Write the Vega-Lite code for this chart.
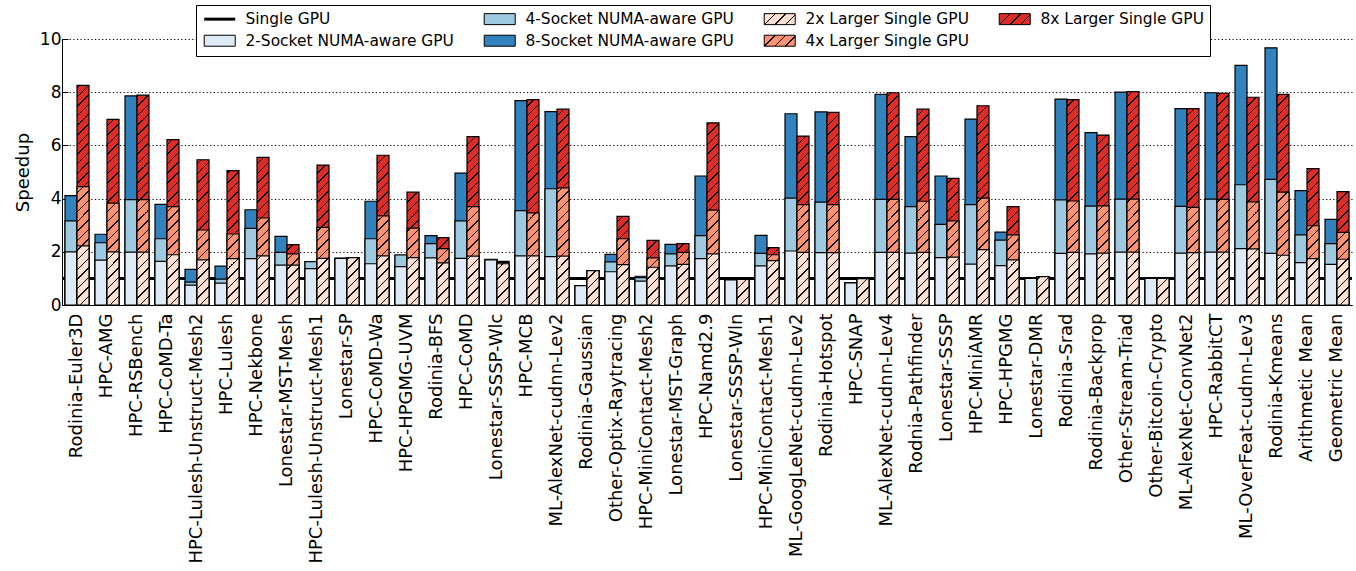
{
  "$schema": "https://vega.github.io/schema/vega-lite/v6.json",
  "width": 1290,
  "height": 266,
  "autosize": {"type": "none"},
  "padding": {"left": 62, "top": 39, "right": 4, "bottom": 266},
  "config": {"view": {"stroke": null}, "font": "DejaVu Sans"},
  "params": [
    {"name": "hatch", "value": [
      {"offset":0,"color":"transparent"},{"offset":0.034,"color":"transparent"},{"offset":0.034,"color":"#000"},{"offset":0.04,"color":"#000"},
      {"offset":0.04,"color":"transparent"},{"offset":0.074,"color":"transparent"},{"offset":0.074,"color":"#000"},{"offset":0.08,"color":"#000"},
      {"offset":0.08,"color":"transparent"},{"offset":0.114,"color":"transparent"},{"offset":0.114,"color":"#000"},{"offset":0.12,"color":"#000"},
      {"offset":0.12,"color":"transparent"},{"offset":0.154,"color":"transparent"},{"offset":0.154,"color":"#000"},{"offset":0.16,"color":"#000"},
      {"offset":0.16,"color":"transparent"},{"offset":0.194,"color":"transparent"},{"offset":0.194,"color":"#000"},{"offset":0.2,"color":"#000"},
      {"offset":0.2,"color":"transparent"},{"offset":0.234,"color":"transparent"},{"offset":0.234,"color":"#000"},{"offset":0.24,"color":"#000"},
      {"offset":0.24,"color":"transparent"},{"offset":0.274,"color":"transparent"},{"offset":0.274,"color":"#000"},{"offset":0.28,"color":"#000"},
      {"offset":0.28,"color":"transparent"},{"offset":0.314,"color":"transparent"},{"offset":0.314,"color":"#000"},{"offset":0.32,"color":"#000"},
      {"offset":0.32,"color":"transparent"},{"offset":0.354,"color":"transparent"},{"offset":0.354,"color":"#000"},{"offset":0.36,"color":"#000"},
      {"offset":0.36,"color":"transparent"},{"offset":0.394,"color":"transparent"},{"offset":0.394,"color":"#000"},{"offset":0.4,"color":"#000"},
      {"offset":0.4,"color":"transparent"},{"offset":0.434,"color":"transparent"},{"offset":0.434,"color":"#000"},{"offset":0.44,"color":"#000"},
      {"offset":0.44,"color":"transparent"},{"offset":0.474,"color":"transparent"},{"offset":0.474,"color":"#000"},{"offset":0.48,"color":"#000"},
      {"offset":0.48,"color":"transparent"},{"offset":0.514,"color":"transparent"},{"offset":0.514,"color":"#000"},{"offset":0.52,"color":"#000"},
      {"offset":0.52,"color":"transparent"},{"offset":0.554,"color":"transparent"},{"offset":0.554,"color":"#000"},{"offset":0.56,"color":"#000"},
      {"offset":0.56,"color":"transparent"},{"offset":0.594,"color":"transparent"},{"offset":0.594,"color":"#000"},{"offset":0.6,"color":"#000"},
      {"offset":0.6,"color":"transparent"},{"offset":0.634,"color":"transparent"},{"offset":0.634,"color":"#000"},{"offset":0.64,"color":"#000"},
      {"offset":0.64,"color":"transparent"},{"offset":0.674,"color":"transparent"},{"offset":0.674,"color":"#000"},{"offset":0.68,"color":"#000"},
      {"offset":0.68,"color":"transparent"},{"offset":0.714,"color":"transparent"},{"offset":0.714,"color":"#000"},{"offset":0.72,"color":"#000"},
      {"offset":0.72,"color":"transparent"},{"offset":0.754,"color":"transparent"},{"offset":0.754,"color":"#000"},{"offset":0.76,"color":"#000"},
      {"offset":0.76,"color":"transparent"},{"offset":0.794,"color":"transparent"},{"offset":0.794,"color":"#000"},{"offset":0.8,"color":"#000"},
      {"offset":0.8,"color":"transparent"},{"offset":0.834,"color":"transparent"},{"offset":0.834,"color":"#000"},{"offset":0.84,"color":"#000"},
      {"offset":0.84,"color":"transparent"},{"offset":0.874,"color":"transparent"},{"offset":0.874,"color":"#000"},{"offset":0.88,"color":"#000"},
      {"offset":0.88,"color":"transparent"},{"offset":0.914,"color":"transparent"},{"offset":0.914,"color":"#000"},{"offset":0.92,"color":"#000"},
      {"offset":0.92,"color":"transparent"},{"offset":0.954,"color":"transparent"},{"offset":0.954,"color":"#000"},{"offset":0.96,"color":"#000"},
      {"offset":0.96,"color":"transparent"},{"offset":0.994,"color":"transparent"},{"offset":0.994,"color":"#000"},{"offset":1,"color":"#000"}
    ]},
    {"name": "lg2", "value": [
      {"offset":0,"color":"#fee0d2"},{"offset":0.215,"color":"#fee0d2"},{"offset":0.215,"color":"#000"},{"offset":0.25,"color":"#000"},
      {"offset":0.25,"color":"#fee0d2"},{"offset":0.465,"color":"#fee0d2"},{"offset":0.465,"color":"#000"},{"offset":0.5,"color":"#000"},
      {"offset":0.5,"color":"#fee0d2"},{"offset":0.715,"color":"#fee0d2"},{"offset":0.715,"color":"#000"},{"offset":0.75,"color":"#000"},
      {"offset":0.75,"color":"#fee0d2"},{"offset":0.965,"color":"#fee0d2"},{"offset":0.965,"color":"#000"},{"offset":1,"color":"#000"}
    ]},
    {"name": "lg4", "value": [
      {"offset":0,"color":"#fc9272"},{"offset":0.215,"color":"#fc9272"},{"offset":0.215,"color":"#000"},{"offset":0.25,"color":"#000"},
      {"offset":0.25,"color":"#fc9272"},{"offset":0.465,"color":"#fc9272"},{"offset":0.465,"color":"#000"},{"offset":0.5,"color":"#000"},
      {"offset":0.5,"color":"#fc9272"},{"offset":0.715,"color":"#fc9272"},{"offset":0.715,"color":"#000"},{"offset":0.75,"color":"#000"},
      {"offset":0.75,"color":"#fc9272"},{"offset":0.965,"color":"#fc9272"},{"offset":0.965,"color":"#000"},{"offset":1,"color":"#000"}
    ]},
    {"name": "lg8", "value": [
      {"offset":0,"color":"#de2d26"},{"offset":0.215,"color":"#de2d26"},{"offset":0.215,"color":"#000"},{"offset":0.25,"color":"#000"},
      {"offset":0.25,"color":"#de2d26"},{"offset":0.465,"color":"#de2d26"},{"offset":0.465,"color":"#000"},{"offset":0.5,"color":"#000"},
      {"offset":0.5,"color":"#de2d26"},{"offset":0.715,"color":"#de2d26"},{"offset":0.715,"color":"#000"},{"offset":0.75,"color":"#000"},
      {"offset":0.75,"color":"#de2d26"},{"offset":0.965,"color":"#de2d26"},{"offset":0.965,"color":"#000"},{"offset":1,"color":"#000"}
    ]}
  ],
  "data": {"values": [
    {"bench":"Rodinia-Euler3D","s2":2.0,"s4":3.16,"s8":4.11,"l2":2.22,"l4":4.45,"l8":8.26},
    {"bench":"HPC-AMG","s2":1.69,"s4":2.34,"s8":2.66,"l2":2.0,"l4":3.83,"l8":6.98},
    {"bench":"HPC-RSBench","s2":1.99,"s4":3.96,"s8":7.86,"l2":1.99,"l4":3.96,"l8":7.89},
    {"bench":"HPC-CoMD-Ta","s2":1.64,"s4":2.49,"s8":3.78,"l2":1.89,"l4":3.70,"l8":6.22},
    {"bench":"HPC-Lulesh-Unstruct-Mesh2","s2":0.75,"s4":0.86,"s8":1.34,"l2":1.70,"l4":2.82,"l8":5.46},
    {"bench":"HPC-Lulesh","s2":0.82,"s4":0.97,"s8":1.46,"l2":1.74,"l4":2.67,"l8":5.05},
    {"bench":"HPC-Nekbone","s2":1.74,"s4":2.88,"s8":3.58,"l2":1.85,"l4":3.27,"l8":5.55},
    {"bench":"Lonestar-MST-Mesh","s2":1.50,"s4":1.98,"s8":2.58,"l2":1.50,"l4":1.92,"l8":2.27},
    {"bench":"HPC-Lulesh-Unstruct-Mesh1","s2":1.37,"s4":1.63,"s8":1.63,"l2":1.75,"l4":2.92,"l8":5.26},
    {"bench":"Lonestar-SP","s2":1.75,"s4":1.75,"s8":1.75,"l2":1.78,"l4":1.78,"l8":1.78},
    {"bench":"HPC-CoMD-Wa","s2":1.55,"s4":2.49,"s8":3.90,"l2":1.85,"l4":3.35,"l8":5.63},
    {"bench":"HPC-HPGMG-UVM","s2":1.44,"s4":1.88,"s8":1.88,"l2":1.78,"l4":2.89,"l8":4.24},
    {"bench":"Rodinia-BFS","s2":1.77,"s4":2.31,"s8":2.61,"l2":1.58,"l4":2.12,"l8":2.53},
    {"bench":"HPC-CoMD","s2":1.75,"s4":3.16,"s8":4.96,"l2":1.84,"l4":3.70,"l8":6.33},
    {"bench":"Lonestar-SSSP-Wlc","s2":1.70,"s4":1.71,"s8":1.72,"l2":1.55,"l4":1.60,"l8":1.64},
    {"bench":"HPC-MCB","s2":1.85,"s4":3.55,"s8":7.68,"l2":1.85,"l4":3.46,"l8":7.72},
    {"bench":"ML-AlexNet-cudnn-Lev2","s2":1.82,"s4":4.37,"s8":7.27,"l2":1.84,"l4":4.40,"l8":7.36},
    {"bench":"Rodinia-Gaussian","s2":0.73,"s4":0.73,"s8":0.73,"l2":1.29,"l4":1.29,"l8":1.29},
    {"bench":"Other-Optix-Raytracing","s2":1.25,"s4":1.62,"s8":1.90,"l2":1.52,"l4":2.49,"l8":3.33},
    {"bench":"HPC-MiniContact-Mesh2","s2":0.90,"s4":1.03,"s8":1.08,"l2":1.42,"l4":1.77,"l8":2.43},
    {"bench":"Lonestar-MST-Graph","s2":1.47,"s4":1.92,"s8":2.28,"l2":1.53,"l4":1.98,"l8":2.31},
    {"bench":"HPC-Namd2.9","s2":1.74,"s4":2.61,"s8":4.85,"l2":1.92,"l4":3.57,"l8":6.85},
    {"bench":"Lonestar-SSSP-Wln","s2":0.94,"s4":0.94,"s8":0.94,"l2":0.96,"l4":0.96,"l8":0.96},
    {"bench":"HPC-MiniContact-Mesh1","s2":1.47,"s4":1.94,"s8":2.62,"l2":1.67,"l4":1.89,"l8":2.16},
    {"bench":"ML-GoogLeNet-cudnn-Lev2","s2":2.03,"s4":4.02,"s8":7.19,"l2":1.98,"l4":3.77,"l8":6.35},
    {"bench":"Rodinia-Hotspot","s2":1.97,"s4":3.87,"s8":7.26,"l2":1.97,"l4":3.77,"l8":7.24},
    {"bench":"HPC-SNAP","s2":0.83,"s4":0.83,"s8":0.83,"l2":0.99,"l4":0.99,"l8":0.99},
    {"bench":"ML-AlexNet-cudnn-Lev4","s2":1.98,"s4":3.97,"s8":7.92,"l2":1.98,"l4":3.97,"l8":7.98},
    {"bench":"Rodnia-Pathfinder","s2":1.95,"s4":3.70,"s8":6.33,"l2":1.98,"l4":3.90,"l8":7.36},
    {"bench":"Lonestar-SSSP","s2":1.78,"s4":3.03,"s8":4.85,"l2":1.80,"l4":3.16,"l8":4.76},
    {"bench":"HPC-MiniAMR","s2":1.54,"s4":3.77,"s8":6.99,"l2":2.08,"l4":4.02,"l8":7.49},
    {"bench":"HPC-HPGMG","s2":1.48,"s4":2.44,"s8":2.74,"l2":1.70,"l4":2.64,"l8":3.70},
    {"bench":"Lonestar-DMR","s2":1.00,"s4":1.00,"s8":1.00,"l2":1.07,"l4":1.07,"l8":1.07},
    {"bench":"Rodinia-Srad","s2":1.94,"s4":3.95,"s8":7.74,"l2":1.98,"l4":3.91,"l8":7.72},
    {"bench":"Rodinia-Backprop","s2":1.92,"s4":3.72,"s8":6.48,"l2":1.95,"l4":3.73,"l8":6.39},
    {"bench":"Other-Stream-Triad","s2":1.99,"s4":3.98,"s8":8.00,"l2":1.99,"l4":3.98,"l8":8.02},
    {"bench":"Other-Bitcoin-Crypto","s2":1.00,"s4":1.00,"s8":1.00,"l2":1.00,"l4":1.00,"l8":1.00},
    {"bench":"ML-AlexNet-ConvNet2","s2":1.95,"s4":3.71,"s8":7.38,"l2":1.97,"l4":3.67,"l8":7.38},
    {"bench":"HPC-RabbitCT","s2":1.99,"s4":3.98,"s8":7.98,"l2":1.99,"l4":3.97,"l8":7.96},
    {"bench":"ML-OverFeat-cudnn-Lev3","s2":2.12,"s4":4.52,"s8":9.01,"l2":2.11,"l4":3.88,"l8":7.81},
    {"bench":"Rodinia-Kmeans","s2":1.94,"s4":4.72,"s8":9.67,"l2":1.87,"l4":4.24,"l8":7.92},
    {"bench":"Arithmetic Mean","s2":1.59,"s4":2.64,"s8":4.30,"l2":1.74,"l4":2.98,"l8":5.13},
    {"bench":"Geometric Mean","s2":1.53,"s4":2.31,"s8":3.22,"l2":1.72,"l4":2.73,"l8":4.26}
  ]},
  "layer": [
    {
      "data": {"values": [{}]},
      "mark": {"type": "rule", "strokeWidth": 3, "stroke": "#000"},
      "encoding": {
        "y": {"datum": 1, "type": "quantitative"}
      }
    },
    {
      "transform": [{"fold": ["s8", "s4", "s2"], "as": ["series", "value"]}],
      "mark": {"type": "bar", "stroke": "#000", "strokeWidth": 1.2},
      "encoding": {
        "x": {
          "field": "bench", "type": "nominal", "sort": null,
          "scale": {"paddingInner": 0.2, "paddingOuter": 0.1},
          "axis": {"title": null, "labelAngle": -90, "labelFontSize": 18, "labelColor": "#000", "ticks": false, "labelPadding": 8, "domainColor": "#000", "domainWidth": 1, "labelLimit": 0, "grid": false}
        },
        "xOffset": {"datum": "NUMA", "type": "nominal", "scale": {"domain": ["NUMA", "Larger"], "paddingInner": 0, "paddingOuter": 0}},
        "y": {
          "field": "value", "type": "quantitative", "stack": null,
          "scale": {"domain": [0, 10], "nice": false},
          "axis": {"values": [0, 2, 4, 6, 8, 10], "grid": true, "gridColor": "#000", "gridDash": [1.2, 2.4], "gridWidth": 1, "domainColor": "#000", "domainWidth": 1, "tickColor": "#000", "tickSize": -6, "tickWidth": 1, "labelFontSize": 17, "labelColor": "#000", "labelPadding": 7, "title": "Speedup", "titleFontSize": 18, "titleFontWeight": "normal", "titleColor": "#000", "titlePadding": 7}
        },
        "color": {
          "field": "series", "type": "nominal",
          "scale": {"domain": ["s2", "s4", "s8", "l2", "l4", "l8"], "range": ["#deebf7", "#9ecae1", "#3182bd", "#fee0d2", "#fc9272", "#de2d26"]},
          "legend": null
        },
        "opacity": {
          "field": "series", "type": "nominal",
          "scale": {"domain": ["single", "s4", "l2", "l8", "s2", "s8", "l4"], "range": [1, 1, 1, 1, 1, 1, 1]},
          "legend": {
            "title": null, "orient": "none", "legendX": 134, "legendY": -34, "direction": "horizontal", "columns": 4,
            "columnPadding": 28, "rowPadding": 5, "padding": 6, "strokeColor": "#000", "fillColor": "#fff",
            "labelFontSize": 15.45, "labelFont": "DejaVu Sans", "labelColor": "#000", "labelOffset": 28, "labelLimit": 0,
            "symbolSize": 121, "symbolOpacity": 1, "symbolStrokeColor": "#000",
            "symbolType": {"expr": "datum.value==='single'?'M-1,0H4.636':'M-1,-1H4.636V1H-1Z'"},
            "symbolStrokeWidth": {"expr": "datum.value==='single'?3:1"},
            "symbolFillColor": {"expr": "datum.value==='single'?'transparent':datum.value==='l2'?{gradient:'linear',x1:1,y1:1,x2:-0.2033,y2:0.573,stops:lg2}:datum.value==='l4'?{gradient:'linear',x1:1,y1:1,x2:-0.2033,y2:0.573,stops:lg4}:datum.value==='l8'?{gradient:'linear',x1:1,y1:1,x2:-0.2033,y2:0.573,stops:lg8}:datum.value==='s2'?'#deebf7':datum.value==='s4'?'#9ecae1':'#3182bd'"},
            "labelExpr": "datum.label==='single'?'Single GPU':datum.label==='s2'?'2-Socket NUMA-aware GPU':datum.label==='s4'?'4-Socket NUMA-aware GPU':datum.label==='s8'?'8-Socket NUMA-aware GPU':datum.label==='l2'?'2x Larger Single GPU':datum.label==='l4'?'4x Larger Single GPU':'8x Larger Single GPU'"
          }
        }
      }
    },
    {
      "transform": [{"fold": ["l8", "l4", "l2"], "as": ["series", "value"]}],
      "mark": {"type": "bar", "stroke": "#000", "strokeWidth": 1.2},
      "encoding": {
        "x": {"field": "bench", "type": "nominal", "sort": null},
        "xOffset": {"datum": "Larger", "type": "nominal"},
        "y": {"field": "value", "type": "quantitative", "stack": null},
        "color": {"field": "series", "type": "nominal"}
      }
    },
    {
      "transform": [{"fold": ["l8", "l4", "l2"], "as": ["series", "value"]}],
      "mark": {"type": "bar", "fill": {"expr": "{gradient:'linear',x1:1,y1:1,x2:1-240*bandwidth('xOffset')/(pow(bandwidth('xOffset'),2)+pow(scale('y',0)-scale('y',datum.max_value),2)),y2:1-240*(scale('y',0)-scale('y',datum.max_value))/(pow(bandwidth('xOffset'),2)+pow(scale('y',0)-scale('y',datum.max_value),2)),stops:hatch}"}},
      "encoding": {
        "x": {"field": "bench", "type": "nominal", "sort": null},
        "xOffset": {"datum": "Larger", "type": "nominal"},
        "y": {"aggregate": "max", "field": "value", "type": "quantitative", "stack": null}
      }
    }
  ]
}
